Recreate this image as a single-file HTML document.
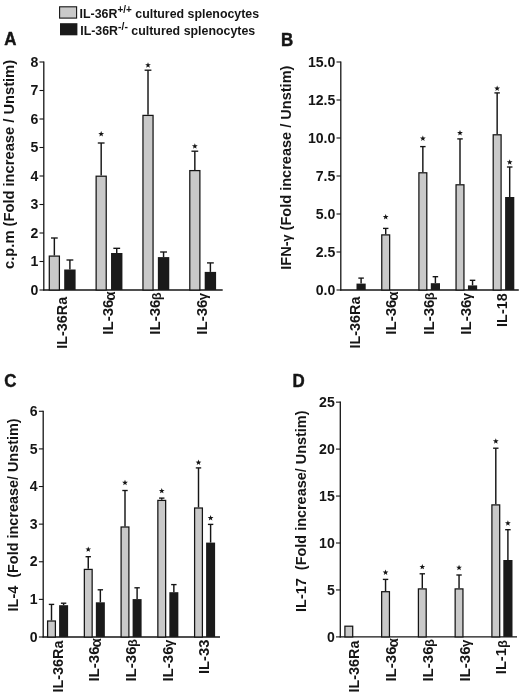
<!DOCTYPE html>
<html lang="en"><head><meta charset="utf-8"><title>IL-36 cytokine bar charts (A-D)</title>
<style>
html,body{margin:0;padding:0;background:#fff;}
body{width:520px;height:694px;overflow:hidden;font-family:"Liberation Sans",sans-serif;}
svg{display:block;will-change:transform;}
svg text{font-family:"Liberation Sans",sans-serif;white-space:pre;}
</style></head><body>
<svg width="520" height="694" viewBox="0 0 520 694">
<rect x="0" y="0" width="520" height="694" fill="#ffffff"/>
<rect x="59.6" y="6.8" width="17" height="11.3" fill="#c9c9c9" stroke="#151515" stroke-width="1.1"/>
<rect x="60.0" y="23.2" width="17.4" height="12.1" fill="#1a1a1a"/>
<text transform="translate(79.60,17.80) scale(0.992,1)" font-size="12.5" font-weight="bold" text-anchor="start" fill="#151515">IL-36R<tspan font-size="10" dy="-5">+/+</tspan><tspan dy="5"> cultured splenocytes</tspan></text>
<text transform="translate(80.20,34.50) scale(0.992,1)" font-size="12.5" font-weight="bold" text-anchor="start" fill="#151515">IL-36R<tspan font-size="10.5" dy="-5">-/-</tspan><tspan dy="5"> cultured splenocytes</tspan></text>
<text transform="translate(4.20,45.40) scale(0.96,1)" font-size="17.6" font-weight="bold" fill="#151515" stroke="#151515" stroke-width="0.45" stroke-linejoin="round">A</text>
<text transform="translate(281.10,45.80) scale(0.96,1)" font-size="17.6" font-weight="bold" fill="#151515" stroke="#151515" stroke-width="0.45" stroke-linejoin="round">B</text>
<text transform="translate(4.20,386.90) scale(0.96,1)" font-size="17.6" font-weight="bold" fill="#151515" stroke="#151515" stroke-width="0.45" stroke-linejoin="round">C</text>
<text transform="translate(292.40,387.00) scale(0.96,1)" font-size="17.6" font-weight="bold" fill="#151515" stroke="#151515" stroke-width="0.45" stroke-linejoin="round">D</text>
<line x1="43.80" y1="61.40" x2="43.80" y2="290.60" stroke="#151515" stroke-width="1.3"/>
<line x1="43.20" y1="290.00" x2="222.70" y2="290.00" stroke="#151515" stroke-width="1.3"/>
<line x1="39.50" y1="290.00" x2="43.80" y2="290.00" stroke="#151515" stroke-width="1.1"/>
<text transform="translate(38.30,294.60) scale(0.94,1)" font-size="15" font-weight="bold" text-anchor="end" fill="#151515">0</text>
<line x1="39.50" y1="261.50" x2="43.80" y2="261.50" stroke="#151515" stroke-width="1.1"/>
<text transform="translate(38.30,266.10) scale(0.94,1)" font-size="15" font-weight="bold" text-anchor="end" fill="#151515">1</text>
<line x1="39.50" y1="233.00" x2="43.80" y2="233.00" stroke="#151515" stroke-width="1.1"/>
<text transform="translate(38.30,237.60) scale(0.94,1)" font-size="15" font-weight="bold" text-anchor="end" fill="#151515">2</text>
<line x1="39.50" y1="204.50" x2="43.80" y2="204.50" stroke="#151515" stroke-width="1.1"/>
<text transform="translate(38.30,209.10) scale(0.94,1)" font-size="15" font-weight="bold" text-anchor="end" fill="#151515">3</text>
<line x1="39.50" y1="176.00" x2="43.80" y2="176.00" stroke="#151515" stroke-width="1.1"/>
<text transform="translate(38.30,180.60) scale(0.94,1)" font-size="15" font-weight="bold" text-anchor="end" fill="#151515">4</text>
<line x1="39.50" y1="147.50" x2="43.80" y2="147.50" stroke="#151515" stroke-width="1.1"/>
<text transform="translate(38.30,152.10) scale(0.94,1)" font-size="15" font-weight="bold" text-anchor="end" fill="#151515">5</text>
<line x1="39.50" y1="119.00" x2="43.80" y2="119.00" stroke="#151515" stroke-width="1.1"/>
<text transform="translate(38.30,123.60) scale(0.94,1)" font-size="15" font-weight="bold" text-anchor="end" fill="#151515">6</text>
<line x1="39.50" y1="90.50" x2="43.80" y2="90.50" stroke="#151515" stroke-width="1.1"/>
<text transform="translate(38.30,95.10) scale(0.94,1)" font-size="15" font-weight="bold" text-anchor="end" fill="#151515">7</text>
<line x1="39.50" y1="62.00" x2="43.80" y2="62.00" stroke="#151515" stroke-width="1.1"/>
<text transform="translate(38.30,66.60) scale(0.94,1)" font-size="15" font-weight="bold" text-anchor="end" fill="#151515">8</text>
<text transform="translate(14.10,268.90) rotate(-90) scale(1.05,1)" font-size="14" font-weight="bold" text-anchor="start" fill="#151515">c.p.m (Fold increase / Unstim)</text>
<line x1="54.35" y1="238.00" x2="54.35" y2="255.50" stroke="#151515" stroke-width="1.45"/>
<line x1="50.96" y1="238.00" x2="57.74" y2="238.00" stroke="#151515" stroke-width="1.35"/>
<rect x="49.30" y="256.10" width="10.10" height="33.90" fill="#c9c9c9" stroke="#151515" stroke-width="1.25"/>
<line x1="69.90" y1="260.00" x2="69.90" y2="269.50" stroke="#151515" stroke-width="1.45"/>
<line x1="66.48" y1="260.00" x2="73.32" y2="260.00" stroke="#151515" stroke-width="1.35"/>
<rect x="64.20" y="269.50" width="11.40" height="20.50" fill="#1a1a1a"/>
<line x1="101.18" y1="143.00" x2="101.18" y2="175.60" stroke="#151515" stroke-width="1.45"/>
<line x1="97.79" y1="143.00" x2="104.57" y2="143.00" stroke="#151515" stroke-width="1.35"/>
<rect x="96.13" y="176.20" width="10.10" height="113.80" fill="#c9c9c9" stroke="#151515" stroke-width="1.25"/>
<polygon points="101.18,131.10 101.92,133.08 104.03,133.17 102.38,134.49 102.94,136.53 101.18,135.36 99.42,136.53 99.98,134.49 98.33,133.17 100.44,133.08" fill="#151515"/>
<line x1="116.73" y1="248.30" x2="116.73" y2="253.00" stroke="#151515" stroke-width="1.45"/>
<line x1="113.31" y1="248.30" x2="120.15" y2="248.30" stroke="#151515" stroke-width="1.35"/>
<rect x="111.03" y="253.00" width="11.40" height="37.00" fill="#1a1a1a"/>
<line x1="148.01" y1="70.20" x2="148.01" y2="114.80" stroke="#151515" stroke-width="1.45"/>
<line x1="144.62" y1="70.20" x2="151.40" y2="70.20" stroke="#151515" stroke-width="1.35"/>
<rect x="142.96" y="115.40" width="10.10" height="174.60" fill="#c9c9c9" stroke="#151515" stroke-width="1.25"/>
<polygon points="148.01,62.20 148.75,64.18 150.86,64.27 149.21,65.59 149.77,67.63 148.01,66.46 146.25,67.63 146.81,65.59 145.16,64.27 147.27,64.18" fill="#151515"/>
<line x1="163.56" y1="252.00" x2="163.56" y2="257.10" stroke="#151515" stroke-width="1.45"/>
<line x1="160.14" y1="252.00" x2="166.98" y2="252.00" stroke="#151515" stroke-width="1.35"/>
<rect x="157.86" y="257.10" width="11.40" height="32.90" fill="#1a1a1a"/>
<line x1="194.84" y1="151.20" x2="194.84" y2="170.00" stroke="#151515" stroke-width="1.45"/>
<line x1="191.45" y1="151.20" x2="198.23" y2="151.20" stroke="#151515" stroke-width="1.35"/>
<rect x="189.79" y="170.60" width="10.10" height="119.40" fill="#c9c9c9" stroke="#151515" stroke-width="1.25"/>
<polygon points="194.84,143.30 195.58,145.28 197.69,145.37 196.04,146.69 196.60,148.73 194.84,147.56 193.08,148.73 193.64,146.69 191.99,145.37 194.10,145.28" fill="#151515"/>
<line x1="210.39" y1="262.90" x2="210.39" y2="271.90" stroke="#151515" stroke-width="1.45"/>
<line x1="206.97" y1="262.90" x2="213.81" y2="262.90" stroke="#151515" stroke-width="1.35"/>
<rect x="204.69" y="271.90" width="11.40" height="18.10" fill="#1a1a1a"/>
<text transform="translate(66.60,348.80) rotate(-90) scale(1.03,1)" font-size="14" font-weight="bold" text-anchor="start" fill="#151515">IL-36Ra</text>
<text transform="translate(113.43,334.80) rotate(-90) scale(1.08,1)" font-size="14" font-weight="bold" text-anchor="start" fill="#151515">IL-36<tspan font-weight="bold" font-size="14" dy="1.5" dx="-1.2">α</tspan></text>
<text transform="translate(160.26,334.80) rotate(-90) scale(1.08,1)" font-size="14" font-weight="bold" text-anchor="start" fill="#151515">IL-36<tspan font-weight="bold" font-size="12" dy="0.6" dx="-0.6">β</tspan></text>
<text transform="translate(207.09,334.80) rotate(-90) scale(1.08,1)" font-size="14" font-weight="bold" text-anchor="start" fill="#151515">IL-36<tspan font-weight="bold" font-size="12" dy="0.3" dx="-0.6">γ</tspan></text>
<line x1="340.80" y1="61.40" x2="340.80" y2="290.60" stroke="#151515" stroke-width="1.3"/>
<line x1="340.20" y1="290.00" x2="518.80" y2="290.00" stroke="#151515" stroke-width="1.3"/>
<line x1="336.50" y1="290.00" x2="340.80" y2="290.00" stroke="#151515" stroke-width="1.1"/>
<text transform="translate(335.30,294.60) scale(0.94,1)" font-size="15" font-weight="bold" text-anchor="end" fill="#151515">0.0</text>
<line x1="336.50" y1="252.00" x2="340.80" y2="252.00" stroke="#151515" stroke-width="1.1"/>
<text transform="translate(335.30,256.60) scale(0.94,1)" font-size="15" font-weight="bold" text-anchor="end" fill="#151515">2.5</text>
<line x1="336.50" y1="214.00" x2="340.80" y2="214.00" stroke="#151515" stroke-width="1.1"/>
<text transform="translate(335.30,218.60) scale(0.94,1)" font-size="15" font-weight="bold" text-anchor="end" fill="#151515">5.0</text>
<line x1="336.50" y1="176.00" x2="340.80" y2="176.00" stroke="#151515" stroke-width="1.1"/>
<text transform="translate(335.30,180.60) scale(0.94,1)" font-size="15" font-weight="bold" text-anchor="end" fill="#151515">7.5</text>
<line x1="336.50" y1="138.00" x2="340.80" y2="138.00" stroke="#151515" stroke-width="1.1"/>
<text transform="translate(335.30,142.60) scale(0.94,1)" font-size="15" font-weight="bold" text-anchor="end" fill="#151515">10.0</text>
<line x1="336.50" y1="100.00" x2="340.80" y2="100.00" stroke="#151515" stroke-width="1.1"/>
<text transform="translate(335.30,104.60) scale(0.94,1)" font-size="15" font-weight="bold" text-anchor="end" fill="#151515">12.5</text>
<line x1="336.50" y1="62.00" x2="340.80" y2="62.00" stroke="#151515" stroke-width="1.1"/>
<text transform="translate(335.30,66.60) scale(0.94,1)" font-size="15" font-weight="bold" text-anchor="end" fill="#151515">15.0</text>
<text transform="translate(290.90,269.70) rotate(-90) scale(1.04,1)" font-size="14" font-weight="bold" text-anchor="start" fill="#151515">IFN-<tspan font-weight="bold" font-size="12" dy="0.5">γ</tspan><tspan dy="-0.5"> (Fold</tspan><tspan> increase / Unstim)</tspan></text>
<line x1="361.10" y1="278.10" x2="361.10" y2="283.60" stroke="#151515" stroke-width="1.45"/>
<line x1="358.34" y1="278.10" x2="363.86" y2="278.10" stroke="#151515" stroke-width="1.35"/>
<rect x="356.50" y="283.60" width="9.20" height="6.40" fill="#1a1a1a"/>
<line x1="385.70" y1="228.40" x2="385.70" y2="234.30" stroke="#151515" stroke-width="1.45"/>
<line x1="382.97" y1="228.40" x2="388.43" y2="228.40" stroke="#151515" stroke-width="1.35"/>
<rect x="381.75" y="234.90" width="7.90" height="55.10" fill="#c9c9c9" stroke="#151515" stroke-width="1.25"/>
<polygon points="385.70,214.00 386.44,215.98 388.55,216.07 386.90,217.39 387.46,219.43 385.70,218.26 383.94,219.43 384.50,217.39 382.85,216.07 384.96,215.98" fill="#151515"/>
<line x1="422.85" y1="146.60" x2="422.85" y2="172.20" stroke="#151515" stroke-width="1.45"/>
<line x1="420.12" y1="146.60" x2="425.58" y2="146.60" stroke="#151515" stroke-width="1.35"/>
<rect x="418.90" y="172.80" width="7.90" height="117.20" fill="#c9c9c9" stroke="#151515" stroke-width="1.25"/>
<polygon points="422.85,135.50 423.59,137.48 425.70,137.57 424.05,138.89 424.61,140.93 422.85,139.76 421.09,140.93 421.65,138.89 420.00,137.57 422.11,137.48" fill="#151515"/>
<line x1="435.40" y1="276.70" x2="435.40" y2="283.20" stroke="#151515" stroke-width="1.45"/>
<line x1="432.64" y1="276.70" x2="438.16" y2="276.70" stroke="#151515" stroke-width="1.35"/>
<rect x="430.80" y="283.20" width="9.20" height="6.80" fill="#1a1a1a"/>
<line x1="460.00" y1="138.90" x2="460.00" y2="184.20" stroke="#151515" stroke-width="1.45"/>
<line x1="457.27" y1="138.90" x2="462.73" y2="138.90" stroke="#151515" stroke-width="1.35"/>
<rect x="456.05" y="184.80" width="7.90" height="105.20" fill="#c9c9c9" stroke="#151515" stroke-width="1.25"/>
<polygon points="460.00,130.00 460.74,131.98 462.85,132.07 461.20,133.39 461.76,135.43 460.00,134.26 458.24,135.43 458.80,133.39 457.15,132.07 459.26,131.98" fill="#151515"/>
<line x1="472.55" y1="280.30" x2="472.55" y2="285.40" stroke="#151515" stroke-width="1.45"/>
<line x1="469.79" y1="280.30" x2="475.31" y2="280.30" stroke="#151515" stroke-width="1.35"/>
<rect x="467.95" y="285.40" width="9.20" height="4.60" fill="#1a1a1a"/>
<line x1="497.15" y1="92.90" x2="497.15" y2="134.20" stroke="#151515" stroke-width="1.45"/>
<line x1="494.42" y1="92.90" x2="499.88" y2="92.90" stroke="#151515" stroke-width="1.35"/>
<rect x="493.20" y="134.80" width="7.90" height="155.20" fill="#c9c9c9" stroke="#151515" stroke-width="1.25"/>
<polygon points="497.15,85.50 497.89,87.48 500.00,87.57 498.35,88.89 498.91,90.93 497.15,89.76 495.39,90.93 495.95,88.89 494.30,87.57 496.41,87.48" fill="#151515"/>
<line x1="509.70" y1="167.00" x2="509.70" y2="197.00" stroke="#151515" stroke-width="1.45"/>
<line x1="506.94" y1="167.00" x2="512.46" y2="167.00" stroke="#151515" stroke-width="1.35"/>
<rect x="505.10" y="197.00" width="9.20" height="93.00" fill="#1a1a1a"/>
<polygon points="509.70,159.30 510.44,161.28 512.55,161.37 510.90,162.69 511.46,164.73 509.70,163.56 507.94,164.73 508.50,162.69 506.85,161.37 508.96,161.28" fill="#151515"/>
<text transform="translate(359.60,348.60) rotate(-90) scale(1.03,1)" font-size="14" font-weight="bold" text-anchor="start" fill="#151515">IL-36Ra</text>
<text transform="translate(396.45,334.80) rotate(-90) scale(1.08,1)" font-size="14" font-weight="bold" text-anchor="start" fill="#151515">IL-36<tspan font-weight="bold" font-size="14" dy="1.5" dx="-1.2">α</tspan></text>
<text transform="translate(433.60,334.80) rotate(-90) scale(1.08,1)" font-size="14" font-weight="bold" text-anchor="start" fill="#151515">IL-36<tspan font-weight="bold" font-size="12" dy="0.6" dx="-0.6">β</tspan></text>
<text transform="translate(470.75,334.80) rotate(-90) scale(1.08,1)" font-size="14" font-weight="bold" text-anchor="start" fill="#151515">IL-36<tspan font-weight="bold" font-size="12" dy="0.3" dx="-0.6">γ</tspan></text>
<text transform="translate(507.40,326.90) rotate(-90) scale(1.03,1)" font-size="14" font-weight="bold" text-anchor="start" fill="#151515">IL-18</text>
<line x1="43.20" y1="410.68" x2="43.20" y2="637.60" stroke="#151515" stroke-width="1.3"/>
<line x1="42.60" y1="637.00" x2="220.00" y2="637.00" stroke="#151515" stroke-width="1.3"/>
<line x1="38.90" y1="637.00" x2="43.20" y2="637.00" stroke="#151515" stroke-width="1.1"/>
<text transform="translate(37.70,641.60) scale(0.94,1)" font-size="15" font-weight="bold" text-anchor="end" fill="#151515">0</text>
<line x1="38.90" y1="599.38" x2="43.20" y2="599.38" stroke="#151515" stroke-width="1.1"/>
<text transform="translate(37.70,603.98) scale(0.94,1)" font-size="15" font-weight="bold" text-anchor="end" fill="#151515">1</text>
<line x1="38.90" y1="561.76" x2="43.20" y2="561.76" stroke="#151515" stroke-width="1.1"/>
<text transform="translate(37.70,566.36) scale(0.94,1)" font-size="15" font-weight="bold" text-anchor="end" fill="#151515">2</text>
<line x1="38.90" y1="524.14" x2="43.20" y2="524.14" stroke="#151515" stroke-width="1.1"/>
<text transform="translate(37.70,528.74) scale(0.94,1)" font-size="15" font-weight="bold" text-anchor="end" fill="#151515">3</text>
<line x1="38.90" y1="486.52" x2="43.20" y2="486.52" stroke="#151515" stroke-width="1.1"/>
<text transform="translate(37.70,491.12) scale(0.94,1)" font-size="15" font-weight="bold" text-anchor="end" fill="#151515">4</text>
<line x1="38.90" y1="448.90" x2="43.20" y2="448.90" stroke="#151515" stroke-width="1.1"/>
<text transform="translate(37.70,453.50) scale(0.94,1)" font-size="15" font-weight="bold" text-anchor="end" fill="#151515">5</text>
<line x1="38.90" y1="411.28" x2="43.20" y2="411.28" stroke="#151515" stroke-width="1.1"/>
<text transform="translate(37.70,415.88) scale(0.94,1)" font-size="15" font-weight="bold" text-anchor="end" fill="#151515">6</text>
<text transform="translate(18.40,611.40) rotate(-90) scale(1.03,1)" font-size="14" font-weight="bold" text-anchor="start" fill="#151515">IL-4  (Fold increase/ Unstim)</text>
<line x1="51.50" y1="604.40" x2="51.50" y2="620.40" stroke="#151515" stroke-width="1.45"/>
<line x1="48.80" y1="604.40" x2="54.20" y2="604.40" stroke="#151515" stroke-width="1.35"/>
<rect x="47.60" y="621.00" width="7.80" height="16.00" fill="#c9c9c9" stroke="#151515" stroke-width="1.25"/>
<line x1="63.60" y1="603.20" x2="63.60" y2="605.20" stroke="#151515" stroke-width="1.45"/>
<line x1="60.90" y1="603.20" x2="66.30" y2="603.20" stroke="#151515" stroke-width="1.35"/>
<rect x="59.10" y="605.20" width="9.00" height="31.80" fill="#1a1a1a"/>
<line x1="88.25" y1="556.70" x2="88.25" y2="568.80" stroke="#151515" stroke-width="1.45"/>
<line x1="85.55" y1="556.70" x2="90.95" y2="556.70" stroke="#151515" stroke-width="1.35"/>
<rect x="84.35" y="569.40" width="7.80" height="67.60" fill="#c9c9c9" stroke="#151515" stroke-width="1.25"/>
<polygon points="88.25,546.40 88.99,548.38 91.10,548.47 89.45,549.79 90.01,551.83 88.25,550.66 86.49,551.83 87.05,549.79 85.40,548.47 87.51,548.38" fill="#151515"/>
<line x1="100.35" y1="589.80" x2="100.35" y2="602.30" stroke="#151515" stroke-width="1.45"/>
<line x1="97.65" y1="589.80" x2="103.05" y2="589.80" stroke="#151515" stroke-width="1.35"/>
<rect x="95.85" y="602.30" width="9.00" height="34.70" fill="#1a1a1a"/>
<line x1="125.00" y1="490.50" x2="125.00" y2="526.40" stroke="#151515" stroke-width="1.45"/>
<line x1="122.30" y1="490.50" x2="127.70" y2="490.50" stroke="#151515" stroke-width="1.35"/>
<rect x="121.10" y="527.00" width="7.80" height="110.00" fill="#c9c9c9" stroke="#151515" stroke-width="1.25"/>
<polygon points="125.00,479.80 125.74,481.78 127.85,481.87 126.20,483.19 126.76,485.23 125.00,484.06 123.24,485.23 123.80,483.19 122.15,481.87 124.26,481.78" fill="#151515"/>
<line x1="137.10" y1="587.80" x2="137.10" y2="599.10" stroke="#151515" stroke-width="1.45"/>
<line x1="134.40" y1="587.80" x2="139.80" y2="587.80" stroke="#151515" stroke-width="1.35"/>
<rect x="132.60" y="599.10" width="9.00" height="37.90" fill="#1a1a1a"/>
<line x1="161.75" y1="498.10" x2="161.75" y2="499.80" stroke="#151515" stroke-width="1.45"/>
<line x1="159.05" y1="498.10" x2="164.45" y2="498.10" stroke="#151515" stroke-width="1.35"/>
<rect x="157.85" y="500.40" width="7.80" height="136.60" fill="#c9c9c9" stroke="#151515" stroke-width="1.25"/>
<polygon points="161.75,487.90 162.49,489.88 164.60,489.97 162.95,491.29 163.51,493.33 161.75,492.16 159.99,493.33 160.55,491.29 158.90,489.97 161.01,489.88" fill="#151515"/>
<line x1="173.85" y1="584.60" x2="173.85" y2="592.20" stroke="#151515" stroke-width="1.45"/>
<line x1="171.15" y1="584.60" x2="176.55" y2="584.60" stroke="#151515" stroke-width="1.35"/>
<rect x="169.35" y="592.20" width="9.00" height="44.80" fill="#1a1a1a"/>
<line x1="198.50" y1="467.90" x2="198.50" y2="507.40" stroke="#151515" stroke-width="1.45"/>
<line x1="195.80" y1="467.90" x2="201.20" y2="467.90" stroke="#151515" stroke-width="1.35"/>
<rect x="194.60" y="508.00" width="7.80" height="129.00" fill="#c9c9c9" stroke="#151515" stroke-width="1.25"/>
<polygon points="198.50,459.60 199.24,461.58 201.35,461.67 199.70,462.99 200.26,465.03 198.50,463.86 196.74,465.03 197.30,462.99 195.65,461.67 197.76,461.58" fill="#151515"/>
<line x1="210.60" y1="524.40" x2="210.60" y2="542.60" stroke="#151515" stroke-width="1.45"/>
<line x1="207.90" y1="524.40" x2="213.30" y2="524.40" stroke="#151515" stroke-width="1.35"/>
<rect x="206.10" y="542.60" width="9.00" height="94.40" fill="#1a1a1a"/>
<polygon points="210.60,515.00 211.34,516.98 213.45,517.07 211.80,518.39 212.36,520.43 210.60,519.26 208.84,520.43 209.40,518.39 207.75,517.07 209.86,516.98" fill="#151515"/>
<text transform="translate(62.60,692.60) rotate(-90) scale(1.03,1)" font-size="14" font-weight="bold" text-anchor="start" fill="#151515">IL-36Ra</text>
<text transform="translate(99.35,681.60) rotate(-90) scale(1.08,1)" font-size="14" font-weight="bold" text-anchor="start" fill="#151515">IL-36<tspan font-weight="bold" font-size="14" dy="1.5" dx="-1.2">α</tspan></text>
<text transform="translate(136.10,681.60) rotate(-90) scale(1.08,1)" font-size="14" font-weight="bold" text-anchor="start" fill="#151515">IL-36<tspan font-weight="bold" font-size="12" dy="0.6" dx="-0.6">β</tspan></text>
<text transform="translate(172.85,681.60) rotate(-90) scale(1.08,1)" font-size="14" font-weight="bold" text-anchor="start" fill="#151515">IL-36<tspan font-weight="bold" font-size="12" dy="0.3" dx="-0.6">γ</tspan></text>
<text transform="translate(209.20,674.10) rotate(-90) scale(1.055,1)" font-size="14" font-weight="bold" text-anchor="start" fill="#151515">IL-33</text>
<line x1="340.30" y1="401.55" x2="340.30" y2="637.50" stroke="#151515" stroke-width="1.3"/>
<line x1="339.70" y1="636.90" x2="517.00" y2="636.90" stroke="#151515" stroke-width="1.3"/>
<line x1="336.00" y1="636.90" x2="340.30" y2="636.90" stroke="#151515" stroke-width="1.1"/>
<text transform="translate(334.80,641.50) scale(0.94,1)" font-size="15" font-weight="bold" text-anchor="end" fill="#151515">0</text>
<line x1="336.00" y1="589.95" x2="340.30" y2="589.95" stroke="#151515" stroke-width="1.1"/>
<text transform="translate(334.80,594.55) scale(0.94,1)" font-size="15" font-weight="bold" text-anchor="end" fill="#151515">5</text>
<line x1="336.00" y1="543.00" x2="340.30" y2="543.00" stroke="#151515" stroke-width="1.1"/>
<text transform="translate(334.80,547.60) scale(0.94,1)" font-size="15" font-weight="bold" text-anchor="end" fill="#151515">10</text>
<line x1="336.00" y1="496.05" x2="340.30" y2="496.05" stroke="#151515" stroke-width="1.1"/>
<text transform="translate(334.80,500.65) scale(0.94,1)" font-size="15" font-weight="bold" text-anchor="end" fill="#151515">15</text>
<line x1="336.00" y1="449.10" x2="340.30" y2="449.10" stroke="#151515" stroke-width="1.1"/>
<text transform="translate(334.80,453.70) scale(0.94,1)" font-size="15" font-weight="bold" text-anchor="end" fill="#151515">20</text>
<line x1="336.00" y1="402.15" x2="340.30" y2="402.15" stroke="#151515" stroke-width="1.1"/>
<text transform="translate(334.80,406.75) scale(0.94,1)" font-size="15" font-weight="bold" text-anchor="end" fill="#151515">25</text>
<text transform="translate(306.00,611.90) rotate(-90) scale(1.032,1)" font-size="14" font-weight="bold" text-anchor="start" fill="#151515">IL-17  (Fold increase/ Unstim)</text>
<rect x="344.90" y="626.20" width="7.80" height="10.70" fill="#c9c9c9" stroke="#151515" stroke-width="1.25"/>
<line x1="385.55" y1="579.40" x2="385.55" y2="591.10" stroke="#151515" stroke-width="1.45"/>
<line x1="382.85" y1="579.40" x2="388.25" y2="579.40" stroke="#151515" stroke-width="1.35"/>
<rect x="381.65" y="591.70" width="7.80" height="45.20" fill="#c9c9c9" stroke="#151515" stroke-width="1.25"/>
<polygon points="385.55,569.50 386.29,571.48 388.40,571.57 386.75,572.89 387.31,574.93 385.55,573.76 383.79,574.93 384.35,572.89 382.70,571.57 384.81,571.48" fill="#151515"/>
<line x1="422.30" y1="573.80" x2="422.30" y2="588.30" stroke="#151515" stroke-width="1.45"/>
<line x1="419.60" y1="573.80" x2="425.00" y2="573.80" stroke="#151515" stroke-width="1.35"/>
<rect x="418.40" y="588.90" width="7.80" height="48.00" fill="#c9c9c9" stroke="#151515" stroke-width="1.25"/>
<polygon points="422.30,563.90 423.04,565.88 425.15,565.97 423.50,567.29 424.06,569.33 422.30,568.16 420.54,569.33 421.10,567.29 419.45,565.97 421.56,565.88" fill="#151515"/>
<line x1="459.05" y1="575.00" x2="459.05" y2="588.30" stroke="#151515" stroke-width="1.45"/>
<line x1="456.35" y1="575.00" x2="461.75" y2="575.00" stroke="#151515" stroke-width="1.35"/>
<rect x="455.15" y="588.90" width="7.80" height="48.00" fill="#c9c9c9" stroke="#151515" stroke-width="1.25"/>
<polygon points="459.05,564.70 459.79,566.68 461.90,566.77 460.25,568.09 460.81,570.13 459.05,568.96 457.29,570.13 457.85,568.09 456.20,566.77 458.31,566.68" fill="#151515"/>
<line x1="495.80" y1="448.20" x2="495.80" y2="504.30" stroke="#151515" stroke-width="1.45"/>
<line x1="493.10" y1="448.20" x2="498.50" y2="448.20" stroke="#151515" stroke-width="1.35"/>
<rect x="491.90" y="504.90" width="7.80" height="132.00" fill="#c9c9c9" stroke="#151515" stroke-width="1.25"/>
<polygon points="495.80,438.30 496.54,440.28 498.65,440.37 497.00,441.69 497.56,443.73 495.80,442.56 494.04,443.73 494.60,441.69 492.95,440.37 495.06,440.28" fill="#151515"/>
<line x1="507.90" y1="529.70" x2="507.90" y2="560.00" stroke="#151515" stroke-width="1.45"/>
<line x1="505.14" y1="529.70" x2="510.66" y2="529.70" stroke="#151515" stroke-width="1.35"/>
<rect x="503.30" y="560.00" width="9.20" height="76.90" fill="#1a1a1a"/>
<polygon points="507.90,520.30 508.64,522.28 510.75,522.37 509.10,523.69 509.66,525.73 507.90,524.56 506.14,525.73 506.70,523.69 505.05,522.37 507.16,522.28" fill="#151515"/>
<text transform="translate(359.10,692.60) rotate(-90) scale(1.03,1)" font-size="14" font-weight="bold" text-anchor="start" fill="#151515">IL-36Ra</text>
<text transform="translate(396.45,681.60) rotate(-90) scale(1.08,1)" font-size="14" font-weight="bold" text-anchor="start" fill="#151515">IL-36<tspan font-weight="bold" font-size="14" dy="1.5" dx="-1.2">α</tspan></text>
<text transform="translate(433.20,681.60) rotate(-90) scale(1.08,1)" font-size="14" font-weight="bold" text-anchor="start" fill="#151515">IL-36<tspan font-weight="bold" font-size="12" dy="0.6" dx="-0.6">β</tspan></text>
<text transform="translate(469.95,681.60) rotate(-90) scale(1.08,1)" font-size="14" font-weight="bold" text-anchor="start" fill="#151515">IL-36<tspan font-weight="bold" font-size="12" dy="0.3" dx="-0.6">γ</tspan></text>
<text transform="translate(506.20,674.20) rotate(-90) scale(1.05,1)" font-size="14" font-weight="bold" text-anchor="start" fill="#151515">IL-1<tspan font-weight="bold" font-size="12" dy="0.6" dx="0.3">β</tspan></text>
</svg>
</body></html>
